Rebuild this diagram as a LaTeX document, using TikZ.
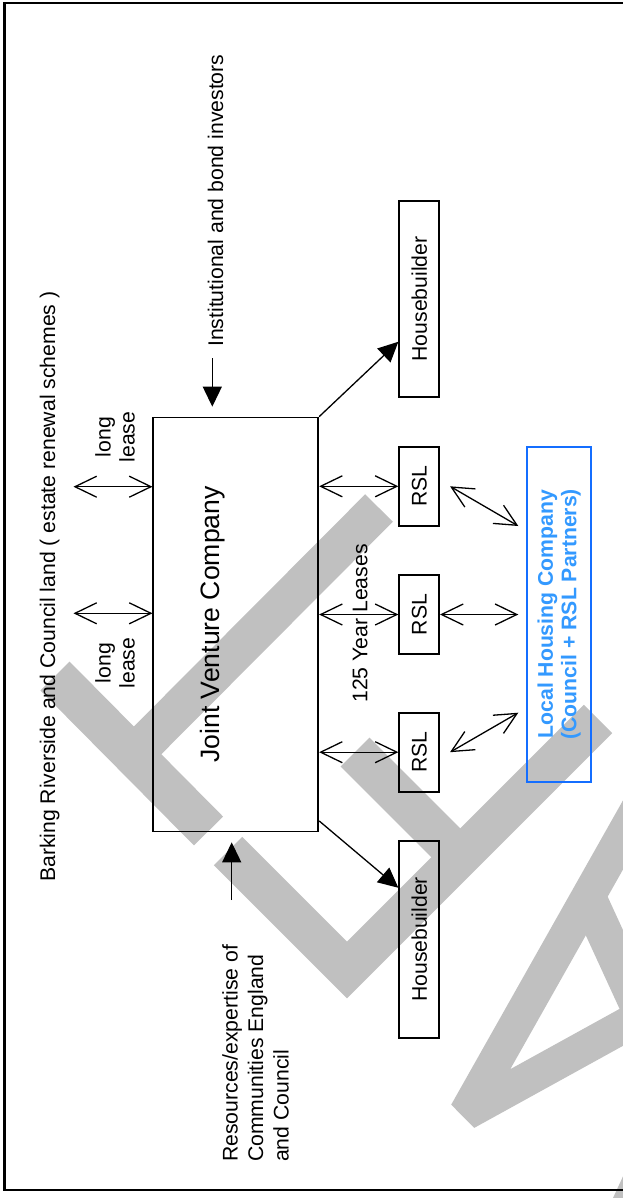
\documentclass[tikz,border=0pt]{standalone}
\usepackage{fontspec}
\setmainfont{Liberation Sans}
\usetikzlibrary{arrows.meta}

\definecolor{lhcblue}{RGB}{20,110,255}
\definecolor{lhctext}{RGB}{51,153,255}
\definecolor{wmgrey}{RGB}{192,192,192}

\newcommand{\dgtxt}{\fontsize{21.2}{24}\selectfont}
\newcommand{\dgbig}{\fontsize{26.6}{30}\selectfont}

\tikzset{
	box/.style={draw, line width=2pt, inner sep=0pt, rotate=90},
	lease/.style={line width=1.3pt, {Straight Barb[length=21.7pt,width=21pt]}-{Straight Barb[length=21.7pt,width=21pt]}},
	feed/.style={line width=1.3pt, -{Triangle[length=20pt,width=19pt]}},
	wmark/.style={draw=wmgrey, line width=40pt},
	vtext/.style={rotate=90, inner sep=0pt}
}

\begin{document}
\begin{tikzpicture}[x=1pt, y=-1pt, font=\dgtxt]

	\useasboundingbox (0,0) rectangle (623,1198);
	\clip (0,0) rectangle (623,1198);

	% watermark
	\draw[wmark, line width=41pt] (55,676) -- (208.5,831);
	\draw[wmark, line width=39pt] (379,508) -- (134,754);
	\draw[wmark] (228,851) -- (347,970) -- (598,719);
	\draw[wmark, line width=41pt] (355,752) -- (460,857);
	\draw[wmark, line width=34pt, line join=bevel] (654,780) -- (466,1113) -- (660,1006);
	\draw[wmark, line width=36pt] (588,897) -- (650,1032);
	\fill[wmgrey] (613,1198) -- (625,1172) -- (625,1198) -- cycle;

	% page frame
	\draw[line width=2.5pt] (4.5,3) rectangle (640,1190);

	% boxes
	\node[box, line width=1.7pt, minimum width=414pt, minimum height=165pt] (jv) at (235.8,624.5) {};
	\node[rotate=90, font=\dgbig] (jvname) at ([xshift=-23.5pt]jv.center) {Joint Venture Company};

	\node[box, minimum width=196.6pt, minimum height=39.7pt] (hb1) at (419.2,299) {Housebuilder};
	\node[box, minimum width=196.6pt, minimum height=39.7pt] (hb2) at (419.2,939.4) {Housebuilder};

	\node[box, minimum width=79pt, minimum height=39.7pt] (rsl1) at (419.2,486.3) {RSL};
	\node[box, minimum width=79pt, minimum height=39.7pt] (rsl2) at (419.2,614.5) {RSL};
	\node[box, minimum width=79pt, minimum height=39.7pt] (rsl3) at (419.2,752.2) {RSL};

	\node[box, draw=lhcblue, line width=1.8pt, text=lhctext, align=center,
		font=\fontsize{21.2}{23.5}\selectfont\bfseries,
		minimum width=335pt, minimum height=63.7pt] (lhc) at (559.2,614.2) {Local Housing Company\\(Council + RSL Partners)};

	% texts
	\node[vtext, anchor=base west] (land) at (55,882) {Barking Riverside and Council land ( estate renewal schemes )};
	\node[vtext, anchor=base west] (invest) at (223,347) {Institutional and bond investors};
	\node[vtext, anchor=north west, align=left, font=\fontsize{21.2}{25.5}\selectfont] (res) at (222,1162) {Resources/expertise of\\Communities England\\and Council};
	\node[vtext, align=center] (lease1) at (115,437) {long\\lease};
	\node[vtext, align=center] (lease2) at (115,663) {long\\lease};
	\node[vtext] (years) at (360,623.5) {125 Year Leases};

	% connectors
	\coordinate (ll1) at (73.5,486.7);
	\coordinate (ll2) at (73.5,613.3);
	\draw[lease] (ll1) -- (ll1 -| jv.north);
	\draw[lease] (ll2) -- (ll2 -| jv.north);

	\draw[lease] (rsl1.north -| jv.south) -- (rsl1.north);
	\draw[lease] (rsl2.north -| jv.south) -- (rsl2.north);
	\draw[lease] (rsl3.north -| jv.south) -- (rsl3.north);

	\coordinate (lhca) at (518.3,526);
	\coordinate (lhcc) at (518.3,712.7);
	\draw[lease] ([xshift=10pt]rsl1.south) -- (lhca);
	\draw[lease] (rsl2.south) -- (rsl2.south -| lhca);
	\draw[lease] ([xshift=10pt]rsl3.south) -- (lhcc);

	\draw[feed] (jv.south east) -- (hb1.154);
	\draw[feed] (jv.-157.5) -- (hb2.22);

	\coordinate (invtail) at (212.3,358);
	\coordinate (restail) at (231.7,900);
	\draw[feed, shorten >=10pt] (invtail) -- (invtail |- jv.east);
	\draw[feed, shorten >=10pt] (restail) -- (restail |- jv.west);

\end{tikzpicture}
\end{document}
